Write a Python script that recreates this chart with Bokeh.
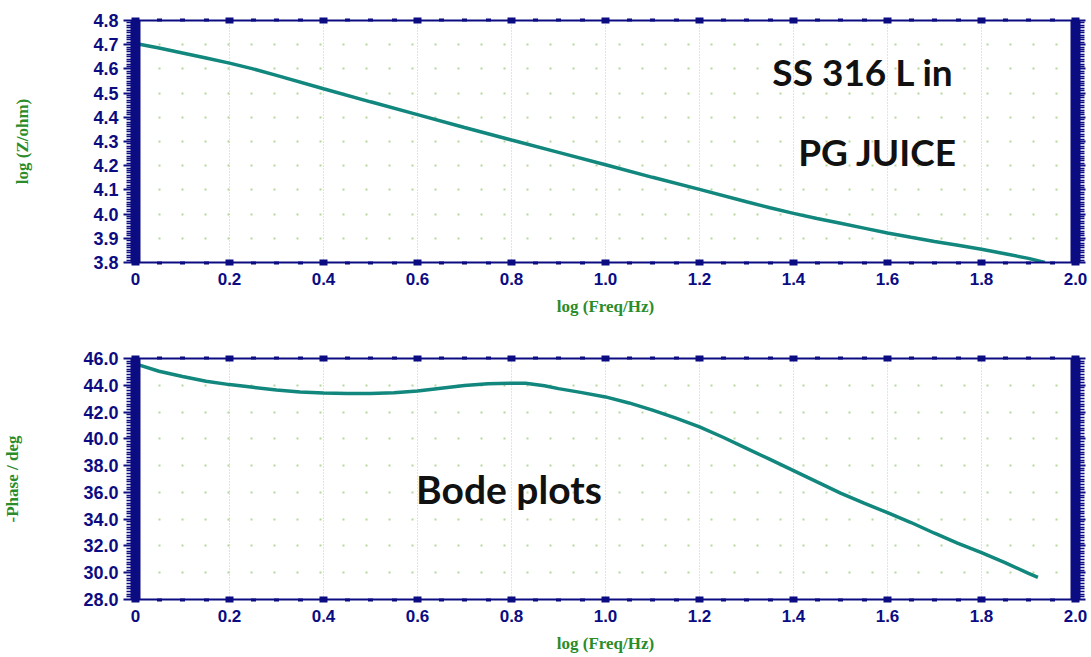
from bokeh.plotting import figure
from bokeh.layouts import column
from bokeh.models import (LinearAxis, FixedTicker, Range1d, Label,
                          NumeralTickFormatter, CustomJSTickFormatter)
from bokeh.embed import file_html
from bokeh.resources import INLINE

# ---- data ----
log_freq_z = [0.0, 0.05, 0.1, 0.15, 0.2, 0.25, 0.3, 0.4, 0.5, 0.6, 0.7, 0.8, 0.9,
              1.0, 1.1, 1.2, 1.3, 1.35, 1.4, 1.45, 1.5, 1.55, 1.6, 1.65, 1.7,
              1.75, 1.8, 1.85, 1.9, 1.935]
log_z = [4.705, 4.686, 4.666, 4.645, 4.624, 4.600, 4.573, 4.518, 4.464, 4.411,
         4.358, 4.306, 4.255, 4.204, 4.152, 4.102, 4.051, 4.026, 4.003, 3.982,
         3.962, 3.942, 3.922, 3.904, 3.887, 3.871, 3.855, 3.836, 3.817, 3.800]

log_freq_p = [0.0, 0.05, 0.1, 0.15, 0.2, 0.25, 0.3, 0.35, 0.4, 0.45, 0.5, 0.55,
              0.6, 0.65, 0.7, 0.75, 0.8, 0.83, 0.87, 0.9, 0.95, 1.0, 1.05, 1.1,
              1.15, 1.2, 1.25, 1.3, 1.35, 1.4, 1.45, 1.5, 1.55, 1.6, 1.65, 1.7,
              1.75, 1.8, 1.85, 1.9, 1.92]
phase = [45.6, 45.05, 44.66, 44.3, 44.05, 43.85, 43.65, 43.5, 43.42, 43.38, 43.38,
         43.45, 43.58, 43.78, 43.98, 44.12, 44.15, 44.15, 43.97, 43.75, 43.45,
         43.13, 42.68, 42.14, 41.55, 40.9, 40.12, 39.29, 38.46, 37.63, 36.78, 35.94,
         35.2, 34.48, 33.75, 32.95, 32.2, 31.5, 30.75, 29.95, 29.65]

x_ticks = [0.0, 0.2, 0.4, 0.6, 0.8, 1.0, 1.2, 1.4, 1.6, 1.8, 2.0]
z_ticks = [3.8, 3.9, 4.0, 4.1, 4.2, 4.3, 4.4, 4.5, 4.6, 4.7, 4.8]
p_ticks = [28.0, 30.0, 32.0, 34.0, 36.0, 38.0, 40.0, 42.0, 44.0, 46.0]

x_title = "log (Freq/Hz)"
z_title = "log (Z/ohm)"
p_title = "-Phase / deg"

NAVY = "#0c0c82"
TEAL = "#12877d"
GREEN = "#2a8c2a"
GRID = "#b3d89a"
TICKFONT = "Liberation Sans"
TITLEFONT = "Liberation Serif"
ANNOFONT = "Lato"


def minors(ticks, n):
    out = []
    for a, b in zip(ticks[:-1], ticks[1:]):
        for k in range(1, n):
            out.append(a + (b - a) * k / n)
    return out


def make_fig(height, top_border, bottom_border, y0, y1, yticks, ylabel):
    p = figure(width=1091, height=height, output_backend="svg", toolbar_location=None,
               x_range=Range1d(0, 2), y_range=Range1d(y0, y1),
               min_border_left=134, min_border_right=16,
               min_border_top=top_border, min_border_bottom=bottom_border,
               x_axis_location=None, y_axis_location=None)
    p.outline_line_color = None
    p.background_fill_color = "white"

    xt = FixedTicker(ticks=x_ticks, minor_ticks=minors(x_ticks, 4))
    yt = FixedTicker(ticks=yticks, minor_ticks=minors(yticks, 10))

    bx = LinearAxis(ticker=xt, formatter=NumeralTickFormatter(format="0.0"),
                    major_label_overrides={0: "0"})
    tx = LinearAxis(ticker=xt, formatter=CustomJSTickFormatter(code="return ''"))
    for ax in (bx, tx):
        ax.axis_line_color = NAVY
        ax.axis_line_width = 2
        ax.major_tick_line_color = NAVY
        ax.major_tick_line_width = 8
        ax.major_tick_in = 3
        ax.major_tick_out = 3
        ax.minor_tick_line_color = NAVY
        ax.minor_tick_line_width = 5
        ax.minor_tick_in = 1
        ax.minor_tick_out = 2
        ax.major_label_text_color = NAVY
        ax.major_label_text_font = TICKFONT
        ax.major_label_text_font_style = "bold"
        ax.major_label_text_font_size = "17px"
        ax.major_label_standoff = 7
    tx.major_label_standoff = 0
    bx.axis_label = x_title
    bx.axis_label_text_color = GREEN
    bx.axis_label_text_font = TITLEFONT
    bx.axis_label_text_font_style = "bold"
    bx.axis_label_text_font_size = "17px"
    bx.axis_label_standoff = 9

    ly = LinearAxis(ticker=yt, formatter=NumeralTickFormatter(format="0.0"))
    ry = LinearAxis(ticker=yt, formatter=CustomJSTickFormatter(code="return ''"))
    for ax in (ly, ry):
        ax.axis_line_color = NAVY
        ax.axis_line_width = 10
        ax.major_tick_line_color = NAVY
        ax.major_tick_line_width = 2
        ax.major_tick_in = 0
        ax.major_tick_out = 12
        ax.minor_tick_line_color = NAVY
        ax.minor_tick_line_width = 1.5
        ax.minor_tick_in = 0
        ax.minor_tick_out = 9
        ax.major_label_text_color = NAVY
        ax.major_label_text_font = TICKFONT
        ax.major_label_text_font_style = "bold"
        ax.major_label_text_font_size = "18px"
        ax.major_label_standoff = 5
    ry.major_tick_out = 10
    ry.minor_tick_out = 9
    ry.major_label_standoff = 0
    ly.axis_label = ylabel
    ly.axis_label_text_color = GREEN
    ly.axis_label_text_font = TITLEFONT
    ly.axis_label_text_font_style = "bold"
    ly.axis_label_text_font_size = "17px"
    ly.axis_label_standoff = 58

    p.add_layout(bx, "below")
    p.add_layout(tx, "above")
    p.add_layout(ly, "left")
    p.add_layout(ry, "right")

    p.xgrid.ticker = FixedTicker(ticks=x_ticks)
    p.xgrid.grid_line_color = GRID
    p.xgrid.grid_line_dash = "1 2"
    p.xgrid.grid_line_width = 1
    p.ygrid.ticker = FixedTicker(ticks=yticks)
    p.ygrid.grid_line_color = GRID
    p.ygrid.grid_line_dash = "2 21"
    p.ygrid.grid_line_width = 2
    return p


p1 = make_fig(340, 20, 78, 3.8, 4.8, z_ticks, z_title)
p1.line(log_freq_z, log_z, line_color=TEAL, line_width=3.5)
for txt, x, y in (("SS 316 L in", 1.355, 4.589), ("PG JUICE", 1.41, 4.259)):
    p1.add_layout(Label(x=x, y=y, text=txt, text_font=ANNOFONT, text_font_style="bold",
                        text_font_size="37px", text_color="#111111",
                        text_align="left", text_baseline="alphabetic"))

p2 = make_fig(315, 18, 55, 28.0, 46.0, p_ticks, p_title)
p2.line(log_freq_p, phase, line_color=TEAL, line_width=3.5)
p2.add_layout(Label(x=0.597, y=36.25, text="Bode plots", text_font=ANNOFONT,
                    text_font_style="bold", text_font_size="39px", text_color="#111111",
                    text_align="left", text_baseline="alphabetic"))

layout = column(p1, p2, spacing=0)
open("out.html", "w").write(file_html(layout, INLINE))
